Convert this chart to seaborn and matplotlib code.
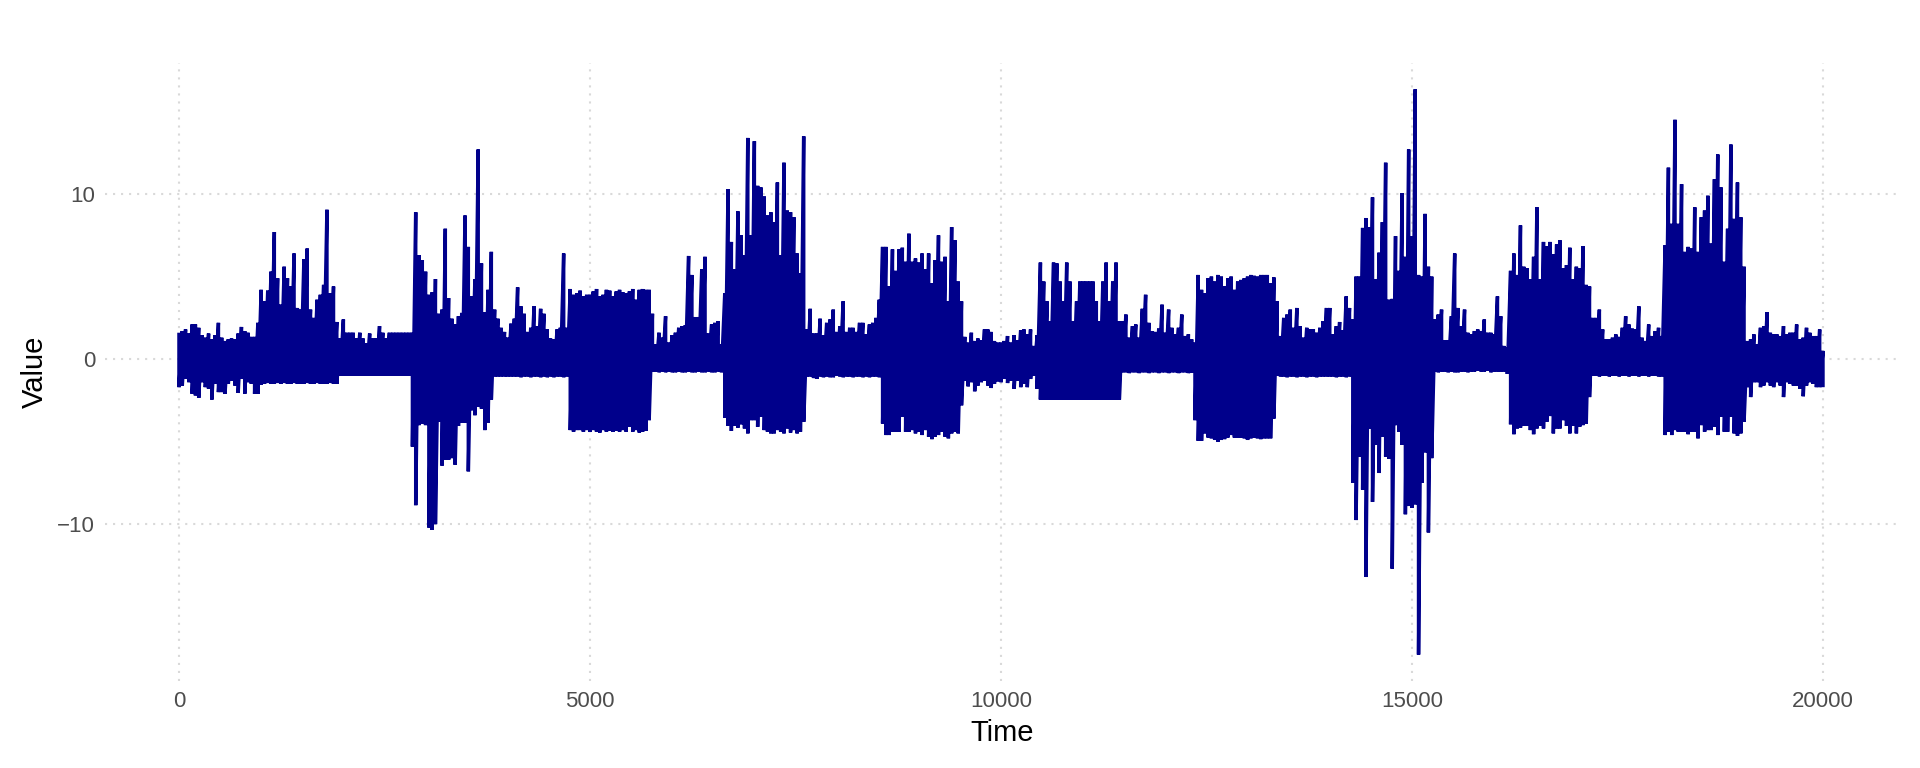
import numpy as np
import pandas as pd
import matplotlib
matplotlib.use('Agg')
import matplotlib.pyplot as plt
import seaborn as sns

# envelope of the series, one row per 1000 time units
upper = [
    1.6, 1.7, 1.8, 1.55, 2.1, 2.1, 1.9, 1.45, 1.3, 1.55, 1.2, 1.45, 2.2, 1.3, 1.1, 1.2, 1.25, 1.2, 1.55, 1.95, 1.7, 1.6, 1.35, 1.35, 2.2,
    4.2, 3.5, 4.15, 5.3, 7.7, 4.9, 3.3, 5.6, 4.9, 4.4, 6.4, 3.1, 3.0, 6.05, 6.7, 3.0, 2.5, 3.6, 3.9, 4.5, 9.05, 4.0, 4.4, 2.25, 1.25,
    2.4, 1.6, 1.6, 1.6, 1.25, 1.6, 1.25, 0.95, 1.55, 1.25, 1.25, 2.0, 1.6, 1.25, 1.6, 1.6, 1.6, 1.6, 1.6, 1.6, 1.6, 1.6, 8.9, 6.3, 6.0,
    5.3, 3.9, 4.05, 4.85, 2.75, 3.0, 7.9, 3.7, 2.45, 2.1, 2.6, 2.8, 8.7, 6.8, 3.8, 4.85, 12.7, 5.8, 2.85, 4.2, 6.5, 3.0, 2.45, 1.9, 1.65,
    1.3, 2.15, 2.45, 4.35, 3.2, 2.75, 1.65, 1.9, 3.2, 2.0, 3.05, 2.75, 1.8, 1.25, 1.2, 1.8, 1.9, 6.4, 1.9, 4.25, 3.9, 4.0, 4.15, 3.8, 3.9,
    3.9, 4.1, 4.25, 3.8, 3.9, 4.2, 4.15, 3.8, 4.1, 4.2, 4.05, 4.0, 4.1, 4.25, 3.6, 4.2, 4.25, 4.2, 4.2, 2.75, 0.9, 1.6, 1.3, 2.6, 1.0,
    1.45, 1.6, 1.9, 2.0, 2.05, 6.25, 5.1, 2.55, 2.55, 5.45, 6.2, 1.55, 2.1, 2.2, 2.3, 0.9, 4.0, 10.3, 7.1, 5.45, 8.95, 7.5, 6.3, 13.4, 7.5,
    13.2, 10.5, 10.4, 9.85, 8.7, 8.9, 8.3, 10.7, 6.3, 11.9, 9.0, 8.9, 8.6, 6.4, 5.2, 13.5, 1.8, 3.05, 1.55, 1.55, 2.45, 1.45, 2.2, 2.4, 3.0,
    1.65, 2.0, 3.5, 1.65, 1.9, 1.9, 1.65, 2.2, 2.2, 1.5, 2.1, 2.2, 2.5, 3.6, 6.8, 6.8, 4.4, 6.65, 5.35, 6.65, 6.75, 5.9, 7.6, 5.9, 6.1,
    5.85, 6.4, 5.45, 6.4, 4.6, 6.0, 7.5, 5.9, 6.2, 3.5, 8.0, 7.2, 4.7, 3.5, 1.35, 1.0, 1.6, 1.1, 1.25, 1.15, 1.8, 1.8, 1.65, 1.1, 1.0,
    1.0, 1.1, 1.4, 1.0, 1.45, 1.15, 1.75, 1.8, 1.5, 1.8, 0.8, 1.45, 5.85, 4.7, 3.5, 2.3, 5.85, 5.8, 4.7, 3.5, 5.85, 4.7, 2.3, 3.5, 4.7,
    4.7, 4.7, 4.7, 4.7, 3.5, 2.3, 4.7, 5.85, 3.5, 4.7, 5.85, 2.3, 2.3, 2.7, 1.3, 2.0, 2.1, 1.3, 3.05, 3.9, 2.2, 1.7, 1.65, 1.85, 3.3,
    1.6, 3.0, 1.9, 1.5, 1.9, 2.7, 1.4, 1.5, 1.2, 1.0, 5.1, 4.2, 4.0, 4.9, 5.0, 4.7, 5.1, 5.0, 4.4, 4.9, 5.0, 4.2, 4.7, 4.8, 4.9,
    5.0, 5.1, 5.05, 5.0, 5.1, 5.1, 5.1, 4.6, 4.95, 3.5, 1.4, 2.5, 2.7, 3.0, 1.9, 3.1, 2.0, 1.3, 1.9, 1.8, 1.8, 1.6, 1.9, 2.3, 3.1,
    3.1, 1.5, 2.0, 2.25, 1.75, 3.8, 3.1, 2.4, 5.0, 5.0, 7.95, 8.55, 8.0, 9.8, 4.85, 6.45, 8.3, 11.9, 3.6, 3.65, 7.45, 5.35, 10.05, 6.2, 12.7,
    7.45, 16.35, 5.1, 5.0, 8.8, 5.6, 5.0, 2.4, 2.7, 3.0, 1.15, 1.15, 2.6, 6.4, 3.1, 2.0, 3.0, 1.6, 1.5, 1.7, 1.8, 1.7, 2.4, 1.6, 1.6,
    1.5, 3.8, 2.6, 0.8, 0.7, 5.35, 6.4, 5.1, 8.1, 5.6, 5.5, 4.85, 6.2, 9.2, 4.85, 7.1, 6.85, 7.1, 6.35, 6.95, 7.2, 5.5, 5.7, 6.75, 4.85,
    5.6, 5.5, 6.85, 4.5, 4.4, 2.5, 2.5, 3.0, 1.8, 1.2, 1.2, 1.3, 1.5, 1.35, 1.9, 2.6, 2.1, 1.85, 1.8, 3.2, 1.3, 1.1, 2.1, 1.4, 1.7,
    1.9, 1.4, 6.9, 11.6, 8.2, 14.5, 8.2, 10.6, 6.5, 6.8, 6.7, 9.2, 6.5, 8.6, 9.0, 9.9, 7.0, 10.9, 12.4, 10.4, 5.9, 7.9, 13.0, 8.5, 10.7,
    8.6, 5.6, 1.1, 1.2, 1.5, 0.9, 1.9, 2.0, 2.85, 1.6, 1.5, 1.5, 1.4, 2.0, 1.5, 1.6, 1.6, 2.1, 1.2, 1.3, 1.9, 1.6, 1.4, 1.4, 1.8,
    0.5,
]
lower = [
    -1.7, -1.6, -1.2, -1.4, -2.1, -2.2, -2.35, -1.4, -1.7, -1.8, -2.45, -1.5, -2.0, -2.0, -2.1, -1.5, -1.3, -1.6, -2.05, -1.2, -2.1, -1.4, -1.5, -2.1, -2.1,
    -1.55, -1.5, -1.45, -1.5, -1.5, -1.45, -1.5, -1.45, -1.5, -1.5, -1.45, -1.5, -1.5, -1.5, -1.45, -1.5, -1.5, -1.45, -1.5, -1.5, -1.5, -1.45, -1.5, -1.5, -1.0,
    -1.0, -1.0, -1.0, -1.0, -1.0, -1.0, -1.0, -1.0, -1.0, -1.0, -1.0, -1.0, -1.0, -1.0, -1.0, -1.0, -1.0, -1.0, -1.0, -1.0, -1.0, -5.3, -8.85, -4.0, -3.9,
    -4.0, -10.2, -10.35, -10.0, -3.8, -6.45, -6.1, -6.1, -6.0, -6.4, -4.05, -3.85, -3.85, -6.8, -3.1, -3.4, -2.9, -3.0, -4.3, -3.85, -2.45, -1.05, -1.05, -1.05, -1.05,
    -1.05, -1.05, -1.05, -1.05, -1.1, -1.05, -1.05, -1.1, -1.05, -1.05, -1.1, -1.05, -1.1, -1.05, -1.1, -1.05, -1.05, -1.1, -1.05, -4.3, -4.4, -4.3, -4.3, -4.4, -4.3,
    -4.4, -4.3, -4.4, -4.45, -4.3, -4.4, -4.35, -4.4, -4.35, -4.4, -4.3, -4.4, -4.1, -4.4, -4.3, -4.45, -4.4, -4.35, -3.7, -0.75, -0.75, -0.8, -0.75, -0.8, -0.75,
    -0.8, -0.8, -0.75, -0.8, -0.8, -0.75, -0.8, -0.8, -0.75, -0.8, -0.8, -0.75, -0.8, -0.8, -0.75, -0.8, -3.55, -4.05, -4.35, -4.05, -4.15, -3.95, -4.2, -4.5, -3.7,
    -3.7, -4.1, -3.5, -4.3, -4.4, -4.5, -4.5, -4.3, -4.4, -4.5, -4.2, -4.45, -4.3, -4.5, -4.4, -3.8, -1.05, -1.05, -1.15, -1.2, -1.05, -1.1, -1.05, -1.1, -1.1,
    -1.0, -1.05, -1.1, -1.05, -1.05, -1.1, -1.05, -1.05, -1.1, -1.05, -1.1, -1.05, -1.05, -1.1, -3.9, -4.6, -4.6, -4.4, -4.4, -4.4, -3.5, -4.4, -4.4, -4.3, -4.5,
    -4.4, -4.6, -4.3, -4.7, -4.85, -4.7, -4.6, -4.4, -4.7, -4.8, -4.5, -4.4, -4.5, -2.8, -1.3, -1.65, -1.4, -1.95, -1.6, -1.4, -1.3, -1.6, -1.75, -1.5, -1.35,
    -1.4, -1.2, -1.45, -1.3, -1.8, -1.3, -1.7, -1.5, -1.7, -1.2, -1.0, -1.8, -2.45, -2.45, -2.45, -2.45, -2.45, -2.45, -2.45, -2.45, -2.45, -2.45, -2.45, -2.45, -2.45,
    -2.45, -2.45, -2.45, -2.45, -2.45, -2.45, -2.45, -2.45, -2.45, -2.45, -2.45, -2.45, -0.8, -0.8, -0.85, -0.8, -0.8, -0.85, -0.8, -0.8, -0.85, -0.8, -0.8, -0.85, -0.8,
    -0.8, -0.85, -0.8, -0.8, -0.85, -0.8, -0.8, -0.85, -0.82, -3.7, -4.95, -4.95, -4.5, -4.75, -4.8, -4.9, -5.0, -4.9, -4.85, -4.75, -4.6, -4.75, -4.75, -4.75, -4.8,
    -4.9, -4.8, -4.75, -4.8, -4.85, -4.8, -4.8, -4.8, -3.6, -1.0, -1.05, -1.05, -1.1, -1.05, -1.05, -1.1, -1.05, -1.05, -1.1, -1.05, -1.05, -1.1, -1.05, -1.05, -1.05,
    -1.05, -1.05, -1.1, -1.05, -1.05, -1.1, -1.05, -7.5, -9.75, -5.9, -7.9, -13.2, -4.2, -8.65, -5.2, -6.9, -4.7, -5.9, -6.05, -12.7, -4.0, -4.4, -5.2, -9.4, -8.9,
    -9.0, -8.8, -17.9, -7.5, -5.65, -10.5, -6.0, -0.75, -0.8, -0.75, -0.75, -0.8, -0.75, -0.8, -0.8, -0.75, -0.75, -0.8, -0.75, -0.75, -0.7, -0.75, -0.75, -0.7, -0.8,
    -0.75, -0.75, -0.75, -0.75, -0.9, -3.95, -4.55, -4.2, -4.15, -4.05, -4.05, -4.3, -4.55, -4.2, -4.05, -4.2, -3.8, -3.45, -4.5, -4.2, -4.2, -3.7, -4.05, -4.5, -4.05,
    -4.5, -4.1, -4.0, -3.9, -2.3, -1.0, -1.0, -1.05, -1.0, -1.0, -1.05, -1.0, -1.0, -1.05, -1.0, -1.0, -1.05, -1.0, -1.0, -1.05, -1.0, -1.0, -1.05, -1.0, -1.0,
    -1.05, -1.05, -4.6, -4.4, -4.6, -4.3, -4.4, -4.4, -4.4, -4.55, -4.4, -4.4, -4.8, -4.0, -4.4, -4.3, -4.3, -4.1, -4.6, -3.5, -4.4, -4.4, -3.5, -4.5, -4.65,
    -4.5, -3.8, -1.7, -2.3, -1.4, -1.4, -1.7, -1.6, -1.4, -1.6, -1.7, -1.4, -1.6, -2.3, -1.4, -1.5, -1.6, -1.6, -1.8, -2.25, -1.6, -1.4, -1.5, -1.7, -1.7,
    -1.7,
]
x_ticks = [0, 5000, 10000, 15000, 20000]
y_ticks = [-10, 0, 10]


def main():
    time = np.arange(len(upper)) * 40

    # one stroke per time step, top of the envelope then bottom
    df = pd.DataFrame({
        'Time': np.repeat(time, 2),
        'Value': np.column_stack([upper, lower]).ravel(),
    })

    sns.set_theme(style='white')
    plt.rcParams['font.family'] = ['Liberation Sans', 'DejaVu Sans']

    fig = plt.figure(figsize=(19.2, 7.68), dpi=100)
    ax = fig.add_axes([105 / 1920, 1 - 681 / 768, 1794 / 1920, 618 / 768])

    ax.grid(True, color='#D9D9D9', linewidth=1.5, linestyle=(0, (1, 2.85)))
    ax.set_axisbelow(True)

    sns.lineplot(data=df, x='Time', y='Value', color='#00008B', linewidth=2.5,
                 estimator=None, sort=False, ax=ax)
    ax.lines[-1].set_solid_joinstyle('bevel')
    ax.lines[-1].set_solid_capstyle('butt')

    ax.set_xlim(-900, 20925)
    ax.set_ylim(-19.5, 17.94)
    ax.set_xticks(x_ticks)
    ax.set_yticks(y_ticks)
    ax.tick_params(length=0, labelsize=16, labelcolor='#4D4D4D', pad=7)
    ax.set_xlabel('Time', fontsize=21, color='black', labelpad=5)
    ax.set_ylabel('Value', fontsize=21, color='black', labelpad=6)
    sns.despine(ax=ax, left=True, bottom=True)

    fig.savefig('out.png', dpi=100)
    plt.close(fig)


if __name__ == '__main__':
    main()
